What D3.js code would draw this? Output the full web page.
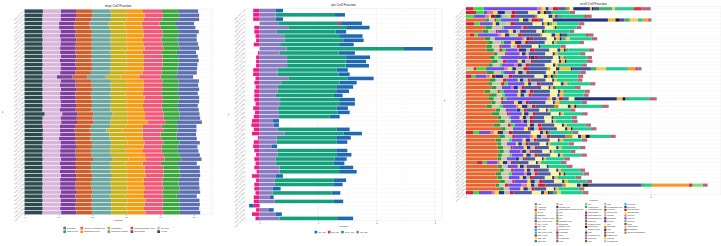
<!DOCTYPE html>
<html><head><meta charset="utf-8">
<script src="https://cdn.jsdelivr.net/npm/d3@7"></script>
<style>body{margin:0;background:#fff}svg{display:block;font-family:"Liberation Sans",Arial,sans-serif}</style>
</head><body><svg id="c" width="721" height="246"></svg>
<script>
const samples = ["TCGA-3C-AAAU","TCGA-3C-AALI","TCGA-3C-AALJ","TCGA-3C-AALK","TCGA-4H-AAAK","TCGA-5L-AAT0","TCGA-5L-AAT1","TCGA-5T-A9QA","TCGA-A1-A0SB","TCGA-A1-A0SD","TCGA-A1-A0SE","TCGA-A1-A0SF","TCGA-A1-A0SG","TCGA-A1-A0SH","TCGA-A1-A0SI","TCGA-A1-A0SJ","TCGA-A1-A0SK","TCGA-A1-A0SM","TCGA-A1-A0SN","TCGA-A1-A0SO","TCGA-A1-A0SP","TCGA-A1-A0SQ","TCGA-A2-A04N","TCGA-A2-A04P","TCGA-A2-A04Q","TCGA-A2-A04R","TCGA-A2-A04T","TCGA-A2-A04U","TCGA-A2-A04V","TCGA-A2-A04W","TCGA-A2-A04X","TCGA-A2-A04Y","TCGA-A2-A0CK","TCGA-A2-A0CL","TCGA-A2-A0CM","TCGA-A2-A0CO","TCGA-A2-A0CP","TCGA-A2-A0CQ","TCGA-A2-A0CR","TCGA-A2-A0CS","TCGA-A2-A0CT","TCGA-A2-A0CU","TCGA-A2-A0CV","TCGA-A2-A0CW","TCGA-A2-A0CX","TCGA-A2-A0CZ","TCGA-A2-A0D0","TCGA-A2-A0D1","TCGA-A2-A0D2","TCGA-A2-A0D3"];

// ---------- MCP-counter ----------
const mcpTypes = ["B lineage","CD8 T cells","Cytotoxic lymphocytes","Endothelial cells","Fibroblasts","Monocytic lineage","Myeloid dendritic cells","Neutrophils","NK cells","T cells"];
const mcpColors = ["#5C70AF","#3AA83A","#F45878","#F79D13","#C6B31C","#6CA6A0","#CF5F2A","#7E3E9E","#D8B5DA","#2D4B4E"];
const mcpB = [6.0,5.9,6.2,5.6,5.4,6.1,5.5,5.7,5.8,5.9,5.7,5.8,5.9,5.6,5.8,5.7,5.0,6.0,5.9,6.0,6.1,5.9,6.0,6.1,6.0,5.9,6.2,7.6,5.5,5.6,5.8,5.9,6.0,5.8,6.1,5.9,6.0,5.8,6.1,6.0,5.9,6.0,6.1,5.9,6.2,6.0,5.8,6.1,5.9,6.0];
const mcpCD8 = [4.7,4.8,4.7,4.6,4.8,4.7,4.6,4.7,4.8,4.7,4.6,4.7,4.8,4.7,4.6,4.7,4.6,4.7,4.8,4.7,4.7,4.8,4.7,4.6,4.8,4.7,4.7,3.0,4.8,4.0,4.7,4.6,4.8,4.7,4.8,4.7,4.9,4.8,4.7,4.8,4.9,4.8,4.7,4.8,4.9,4.2,4.7,4.9,4.8,4.7];
const mcpCyto = [5.6,5.5,5.4,5.3,5.5,5.4,5.6,5.5,5.4,5.5,5.6,5.4,5.5,5.5,5.4,5.6,6.3,5.5,5.4,5.6,5.5,5.4,5.6,5.5,5.4,5.5,5.6,5.4,5.5,6.4,5.3,5.5,5.6,5.4,5.5,5.6,5.5,5.4,5.6,5.5,5.4,5.6,5.5,5.4,5.5,5.6,5.5,5.4,5.6,5.5];
const mcpEndo = [5.0,5.1,5.2,5.1,5.0,5.2,5.1,5.0,5.2,5.1,5.0,5.1,5.2,5.1,5.0,5.1,5.5,5.1,5.2,5.0,5.1,5.2,5.1,5.0,5.2,5.1,5.1,5.9,5.1,5.9,5.2,5.1,5.0,5.2,5.1,5.3,5.2,5.1,5.2,5.3,5.2,5.1,5.3,5.2,5.1,5.2,5.3,5.2,5.1,5.2];
const mcpFib = [4.6,4.7,4.6,4.7,4.8,4.6,4.7,4.6,4.7,4.8,4.6,4.7,4.6,4.7,4.8,4.6,4.4,4.7,4.6,4.7,4.6,4.8,4.7,4.6,4.7,4.6,4.8,5.1,4.7,4.7,4.6,4.7,4.8,4.6,4.7,4.8,4.7,4.6,4.7,4.8,4.7,4.6,4.7,4.8,4.6,4.7,4.8,4.6,4.7,4.8];
const mcpMono = [5.5,5.6,5.7,5.6,5.5,5.6,5.7,5.5,5.6,5.7,5.5,5.6,5.7,5.6,5.5,5.6,5.5,5.7,5.6,5.5,5.6,5.7,5.6,5.5,5.7,5.6,5.5,5.0,5.6,4.9,5.3,5.6,5.7,5.5,5.6,5.7,5.8,5.6,5.7,5.8,5.7,5.6,5.7,5.8,5.6,5.5,5.7,5.8,5.6,5.7];
const mcpMDC = [4.7,4.8,4.7,4.6,4.7,4.8,4.7,4.6,4.7,4.8,4.7,4.6,4.7,4.8,4.7,4.6,4.4,4.7,4.8,4.7,4.6,4.7,4.8,4.7,4.6,4.7,4.8,4.9,4.7,4.5,4.7,4.6,4.8,4.7,4.6,4.7,4.8,4.7,4.6,4.7,4.8,4.7,4.6,4.7,4.8,4.7,4.6,4.7,4.8,4.7];
const mcpNeu = [4.5,4.6,4.5,4.4,4.6,4.5,4.6,4.7,4.5,4.6,4.5,4.6,4.7,4.5,4.6,4.5,4.6,4.5,4.6,4.7,4.5,4.6,4.5,4.6,4.7,4.5,4.6,4.7,4.5,4.4,4.6,4.7,4.5,4.6,4.5,4.6,4.7,4.5,4.6,4.5,4.6,4.7,4.5,4.6,4.5,4.6,4.7,4.5,4.6,4.5];
const mcpNK = [5.3,5.3,5.4,5.0,5.1,5.3,5.2,5.3,5.4,5.2,5.3,5.4,5.2,5.3,5.4,5.2,4.3,5.3,5.2,5.4,5.3,5.2,5.4,5.3,5.2,5.2,5.3,5.6,5.1,5.0,5.2,4.8,5.3,5.4,5.2,5.3,5.4,5.2,5.3,5.2,5.4,5.3,5.2,5.3,5.4,5.2,5.3,5.4,5.2,5.6];
const mcpT = [5.4,5.3,5.2,5.2,5.1,5.3,5.2,5.3,5.2,5.3,5.2,5.3,5.2,5.3,5.2,5.3,5.2,5.3,5.2,5.3,5.2,5.3,5.2,5.3,5.2,5.9,5.3,5.2,5.3,5.4,5.3,5.4,5.3,5.2,5.3,5.2,5.3,5.2,5.3,5.2,5.3,5.2,5.3,5.2,5.3,5.2,5.3,5.2,5.3,5.2];
const mcpTicks = [0,10,20,30,40,50];

// ---------- IPS ----------
const ipsTypes = ["CP_IPS","EC_IPS","MHC_IPS","SC_IPS"];
const ipsColors = ["#1E69AF","#EE1C8A","#15A07C","#8A7CC0"];
const ipsCP  = [0.13,0.17,0.13,0.37,0.40,0.18,0.40,0.35,0.25,0.49,0.28,0.41,0.35,0.40,0.19,0.19,0.44,0.29,0.29,0.22,0.15,0.27,0.27,0.19,0.21,0.17,0.10,0.09,0.22,0.31,0.25,0.18,0.09,0.19,0.26,0.21,0.19,0.24,0.30,0.13,0.21,0.16,0.14,0.15,0.07,0.16,-0.08,0.08,0.11,0.26];
const ipsEC  = [-0.11,-0.11,-0.11,0.04,-0.09,-0.09,-0.07,-0.06,-0.10,0,-0.03,-0.06,-0.06,-0.06,-0.11,-0.11,-0.07,-0.09,-0.07,-0.09,-0.09,-0.09,-0.07,-0.11,-0.08,-0.10,-0.13,-0.14,-0.10,-0.13,-0.03,-0.10,-0.11,-0.09,-0.06,-0.09,-0.07,-0.09,-0.05,-0.13,-0.06,-0.09,-0.09,-0.07,-0.10,-0.10,-0.10,-0.06,-0.13,-0.07];
const ipsMHC = [0,1.02,0,1.01,0.99,1.01,0.94,1.00,1.01,2.01,1.01,1.01,1.01,1.00,1.01,1.04,1.01,1.00,1.00,1.00,1.00,1.01,1.01,1.01,1.00,0.87,0,0,1.01,1.01,1.02,1.03,0,1.01,1.00,1.01,0.99,1.02,1.02,0,1.01,1.00,0,1.01,0,1.01,0,0,0,1.00];
const ipsSC  = [0.27,0.27,0.27,0.33,0.49,0.29,0.42,0.43,0.35,0.46,0.34,0.47,0.46,0.47,0.31,0.31,0.50,0.37,0.31,0.31,0.27,0.35,0.35,0.31,0.33,0.33,0.23,0.24,0.31,0.43,0.29,0.29,0.21,0.30,0.31,0.27,0.27,0.34,0.34,0.27,0.26,0.26,0.22,0.22,0.17,0.26,0,0.16,0.27,0.34];
const ipsTicks = [0,1,2,3];

// ---------- xCell ----------
const xcellTypes = ["aDC","Adipocytes","Astrocytes","B-cells","Basophils","CD4+ memory T-cells","CD4+ naive T-cells","CD4+ T-cells","CD4+ Tcm","CD4+ Tem","CD8+ naive T-cells","CD8+ T-cells","CD8+ Tcm","CD8+ Tem","cDC","Chondrocytes","Class-switched memory B-cells","CLP","CMP","DC","Endothelial cells","Eosinophils","Epithelial cells","Erythrocytes","Fibroblasts","GMP","Hepatocytes","HSC","iDC","Keratinocytes","ly Endothelial cells","Macrophages","Macrophages M1","Macrophages M2","Mast cells","Megakaryocytes","Melanocytes","Memory B-cells","MEP","Mesangial cells","Monocytes","MPP","MSC","mv Endothelial cells","Myocytes","naive B-cells","Neurons","Neutrophils","NK cells","NKT","Osteoblast","pDC","Pericytes","Plasma cells","Platelets","Preadipocytes","pro B-cells","Sebocytes","Skeletal muscle","Smooth muscle","Tgd cells","Th1 cells","Th2 cells","Tregs","ImmuneScore","StromaScore","MicroenvironmentScore"];
const xcellColors = ["#B4687C","#7CE07A","#E4312B","#F39A27","#1CCF8F","#BA55D3","#556B2F","#FFA07A","#9932CC","#1E90FF","#20B2AA","#A52A2A","#F2D04B","#2E8B57","#F4A460","#483D8B","#8FBC8F","#FF69B4","#5F9EA0","#B8860B","#3CB371","#DB7093","#C9B8E8","#FF7F50","#2F4F4F","#6A5ACD","#D2691E","#8B5A8C","#9ACD32","#00B5AD","#F0E68C","#46549A","#C71585","#A0522D","#3E8E3E","#E84A9A","#1E1E1E","#F5D27A","#0E6B5C","#D34E7A","#9E6BD6","#6B6B3A","#F6B53A","#2EA8E0","#B33F2B","#5DD39E","#E98FA8","#22347F","#7F2C8F","#F6F39C","#C18A1B","#4A2A1A","#4B5CA0","#D9142E","#B6E34A","#B5BBAE","#19C9D6","#2B2F86","#8E1B2E","#F2E02E","#F06AA0","#6E4EEA","#2FE03A","#D8203A","#C8C4A8","#22A03A","#E8642C"];
// per sample: [cell type index, score]
const xcellRows = [
[[63,.2],[62,.28],[61,1.45],[60,.12],[59,.1],[57,.08],[55,.12],[53,.15],[52,.2],[50,.1],[49,.1],[47,.45],[42,.05],[36,.05],[31,.15],[20,.35],[12,.08],[4,.5],[2,.22],[0,.25]],
[[63,.28],[62,.2],[61,.1],[60,.15],[59,.12],[57,.2],[55,.18],[53,.1],[52,.35],[49,.25],[47,.08],[42,.1],[36,.05],[31,.15],[20,.05],[4,.45],[0,.14]],
[[62,.22],[61,.3],[60,.1],[59,.05],[58,.12],[57,.15],[56,.05],[55,.12],[54,.1],[53,.12],[52,.55],[50,.05],[49,.3],[47,.1],[42,.08],[31,.07],[20,.12],[4,.6],[2,.05],[0,.15]],
[[66,.52],[65,.1],[64,.15],[63,.05],[62,.12],[61,.5],[59,.1],[57,.15],[55,.08],[53,.2],[52,.12],[49,.25],[47,1.5],[42,.2],[36,.12],[31,.12],[20,.15],[12,.22],[4,.12],[3,.15],[0,.1]],
[[63,.22],[62,.15],[61,.35],[59,.08],[57,.1],[55,.2],[54,.1],[53,.1],[52,.5],[49,.25],[47,.05],[42,.1],[36,.05],[20,.08],[12,.12],[4,.6],[0,.15]],
[[66,.52],[65,.18],[64,.27],[62,.05],[61,.48],[60,.05],[53,.08],[52,.5],[49,.22],[42,.06],[36,.03],[4,.55],[0,.13]],
[[66,.45],[65,.15],[64,.2],[63,.05],[61,.3],[59,.12],[57,.08],[55,.1],[52,.45],[49,.15],[47,.06],[20,.1],[4,.6],[0,.12]],
[[66,.1],[63,.12],[62,.1],[61,.55],[60,.08],[59,.1],[57,.12],[55,.18],[54,.06],[53,.1],[52,.5],[50,.05],[49,.25],[47,.1],[42,.12],[36,.04],[31,.18],[4,.5],[2,.05],[0,.15]],
[[66,.5],[65,.15],[64,.12],[61,.75],[60,.06],[59,.05],[57,.08],[53,.12],[52,.35],[49,.2],[47,.05],[42,.1],[36,.05],[20,.12],[12,.1],[4,.6],[0,.15]],
[[66,.6],[65,.12],[64,.22],[62,.08],[61,.2],[59,.1],[58,.06],[57,.12],[55,.1],[53,.08],[52,.45],[49,.2],[47,.05],[42,.06],[4,.62],[0,.13]],
[[66,.55],[65,.15],[64,.2],[63,.06],[61,.25],[59,.05],[55,.12],[53,.1],[52,.3],[49,.18],[47,.05],[4,.55],[0,.14]],
[[66,.55],[65,.2],[64,.15],[63,.08],[62,.1],[61,.3],[60,.05],[57,.2],[55,.1],[53,.12],[52,.4],[49,.22],[47,.08],[42,.1],[36,.04],[20,.08],[4,.55],[0,.14]],
[[66,.75],[65,.1],[64,.2],[63,.05],[61,.35],[59,.06],[57,.1],[55,.08],[52,.45],[49,.2],[47,.06],[42,.08],[4,.6],[0,.15]],
[[66,.65],[65,.12],[64,.1],[62,.08],[61,.7],[60,.05],[58,.05],[57,.1],[53,.1],[52,.4],[49,.15],[47,.05],[42,.08],[20,.1],[4,.55],[0,.13]],
[[66,.7],[65,.15],[64,.15],[63,.1],[61,.3],[59,.1],[57,.1],[55,.15],[53,.06],[52,.5],[49,.2],[47,.06],[42,.1],[36,.05],[4,.55],[0,.15]],
[[66,.6],[65,.12],[64,.18],[62,.06],[61,.35],[60,.08],[57,.12],[55,.1],[53,.1],[52,.42],[49,.22],[47,.06],[42,.08],[20,.1],[4,.55],[0,.13]],
[[64,.2],[63,.08],[62,.25],[61,.5],[60,.1],[59,.12],[57,.1],[55,.2],[53,.1],[52,.55],[50,.08],[49,.15],[47,.1],[42,.3],[36,.05],[31,.5],[20,.15],[12,.25],[4,.6],[3,.2],[2,.05],[0,.12]],
[[66,.55],[65,.2],[64,.2],[62,.08],[61,.3],[59,.08],[57,.12],[55,.1],[53,.08],[52,.45],[49,.2],[47,.05],[42,.08],[4,.6],[0,.15]],
[[63,.15],[62,.1],[61,.3],[60,.1],[59,.05],[58,.1],[57,.2],[55,.15],[53,.1],[52,.6],[49,.25],[47,.1],[42,.1],[36,.05],[20,.12],[4,.55],[0,.15]],
[[66,.65],[65,.15],[64,.2],[63,.1],[61,.3],[59,.05],[57,.1],[55,.12],[53,.08],[52,.4],[49,.18],[47,.05],[42,.08],[4,.55],[0,.14]],
[[66,.6],[65,.1],[64,.25],[63,.08],[62,.1],[61,.45],[59,.1],[57,.08],[55,.15],[53,.1],[52,.35],[49,.2],[47,.08],[42,.1],[20,.06],[4,.55],[0,.15]],
[[66,.7],[65,.12],[64,.15],[61,.25],[60,.06],[57,.12],[55,.1],[53,.08],[52,.45],[49,.2],[47,.05],[42,.08],[36,.04],[4,.55],[0,.15]],
[[66,.5],[65,.15],[64,.2],[63,.06],[62,.1],[61,.4],[59,.06],[57,.15],[55,.1],[53,.1],[52,.45],[49,.22],[47,.06],[42,.08],[20,.08],[4,.5],[0,.14]],
[[66,.65],[65,.18],[64,.15],[62,.06],[61,.35],[59,.08],[57,.1],[55,.12],[53,.08],[52,.5],[49,.2],[47,.06],[42,.1],[4,.55],[0,.14]],
[[66,.6],[65,.15],[64,.2],[63,.06],[62,.08],[61,1.1],[60,.08],[59,.06],[57,.1],[55,.08],[53,.12],[52,.15],[49,.15],[47,1.15],[42,.15],[36,.08],[20,.1],[4,.55],[0,.2]],
[[66,.7],[65,.1],[64,.15],[63,.05],[61,.3],[59,.1],[57,.12],[55,.1],[53,.08],[52,.45],[49,.2],[47,.05],[42,.12],[4,.6],[0,.15]],
[[66,.55],[65,.15],[64,.2],[62,.1],[61,.35],[60,.06],[59,.1],[57,.15],[55,.12],[53,.1],[52,.5],[50,.12],[49,.25],[47,.08],[42,.1],[36,.05],[20,.1],[4,.6],[0,.18]],
[[66,.8],[65,.12],[64,.15],[61,.3],[57,.1],[55,.1],[53,.06],[52,.35],[49,.18],[47,.05],[42,.06],[4,.55],[0,.14]],
[[66,.7],[65,.2],[64,.2],[63,.06],[61,.35],[59,.06],[57,.12],[55,.12],[53,.08],[52,.4],[49,.22],[47,.05],[42,.08],[4,.5],[0,.15]],
[[66,.85],[65,.1],[64,.2],[62,.05],[61,.25],[59,.08],[57,.1],[55,.1],[53,.08],[52,.3],[49,.2],[47,.05],[4,.5],[0,.14]],
[[66,.9],[65,.15],[64,.15],[61,.3],[60,.05],[57,.1],[55,.08],[53,.08],[52,.32],[49,.18],[47,.05],[42,.06],[4,.45],[0,.15]],
[[66,.75],[65,.18],[64,.2],[63,.08],[62,.1],[61,.35],[59,.06],[57,.12],[55,.1],[53,.1],[52,.35],[49,.2],[47,.06],[42,.08],[4,.5],[0,.15]],
[[66,.95],[65,.12],[64,.2],[61,.3],[59,.1],[58,.05],[57,.12],[55,.12],[53,.1],[52,.4],[49,.22],[47,.06],[42,.1],[36,.04],[4,.5],[0,.15]],
[[63,.2],[62,.15],[61,.3],[60,.1],[59,.1],[57,.15],[55,.15],[53,.1],[52,.5],[49,.25],[47,.08],[42,.08],[36,.05],[20,.08],[4,.6],[0,.15]],
[[66,.9],[65,.15],[64,.2],[63,.08],[61,.4],[60,.08],[59,.1],[57,.12],[55,.15],[53,.1],[52,.4],[50,.2],[49,.15],[47,.08],[42,.12],[36,.12],[4,.55],[0,.15]],
[[66,.8],[65,.15],[64,.2],[62,.08],[61,.3],[59,.08],[57,.12],[55,.1],[53,.08],[52,.35],[49,.22],[47,.05],[42,.1],[4,.5],[0,.15]],
[[66,.85],[65,.1],[64,.15],[61,.25],[59,.06],[57,.1],[55,.1],[53,.08],[52,.3],[49,.18],[47,.05],[42,.06],[4,.5],[0,.14]],
[[66,.85],[65,.15],[64,.2],[63,.06],[61,.3],[59,.08],[57,.1],[55,.12],[53,.06],[52,.32],[49,.2],[47,.06],[42,.08],[4,.5],[0,.15]],
[[66,.9],[65,.12],[64,.15],[61,.3],[60,.05],[57,.1],[55,.1],[53,.06],[52,.28],[49,.2],[47,.05],[42,.06],[4,.45],[0,.14]],
[[66,.85],[65,.12],[64,.2],[62,.06],[61,.32],[59,.08],[57,.12],[55,.1],[53,.08],[52,.35],[49,.2],[47,.06],[42,.08],[4,.5],[0,.15]],
[[66,.85],[65,.1],[64,.15],[61,.25],[57,.08],[55,.1],[53,.06],[52,.28],[49,.18],[47,.05],[42,.06],[4,.5],[0,.15]],
[[66,.3],[63,.15],[62,.1],[61,.3],[60,.06],[59,.08],[57,.12],[55,.1],[53,.06],[52,.42],[49,.2],[47,.05],[42,.08],[4,.55],[0,.15]],
[[66,.85],[65,.12],[64,.15],[61,.28],[59,.06],[57,.1],[55,.08],[53,.06],[52,.3],[49,.18],[47,.05],[4,.5],[0,.15]],
[[66,.9],[65,.12],[64,.2],[63,.06],[61,.3],[59,.06],[57,.1],[55,.1],[53,.08],[52,.32],[49,.2],[47,.05],[42,.08],[4,.5],[0,.15]],
[[66,.8],[65,.15],[64,.2],[62,.08],[61,.35],[60,.06],[57,.12],[55,.1],[53,.08],[52,.35],[49,.22],[47,.05],[42,.08],[36,.04],[4,.5],[0,.15]],
[[66,.85],[65,.12],[64,.18],[61,.3],[59,.08],[57,.1],[55,.1],[53,.08],[52,.32],[49,.2],[47,.06],[42,.08],[4,.5],[0,.15]],
[[66,.9],[65,.15],[64,.2],[63,.06],[61,.35],[59,.08],[57,.12],[55,.12],[53,.08],[52,.32],[49,.22],[47,.06],[42,.1],[4,.5],[0,.15]],
[[66,.8],[65,.1],[64,.15],[63,.1],[61,.35],[60,.15],[59,.1],[57,.1],[55,.1],[53,.2],[52,.45],[50,.1],[49,.3],[47,.1],[42,.05],[36,.15],[31,1.45],[20,.1],[4,.18],[3,1.0],[2,.1],[1,.27],[0,.14]],
[[66,.9],[65,.12],[64,.15],[61,.3],[59,.08],[57,.12],[55,.1],[53,.08],[52,.32],[49,.2],[47,.05],[42,.08],[4,.55],[0,.15]],
[[63,.2],[62,.15],[61,.35],[60,.08],[59,.1],[57,.15],[55,.15],[53,.1],[52,.5],[49,.25],[47,.08],[42,.1],[36,.05],[31,.1],[20,.1],[12,.1],[4,.6],[0,.15]]
];
const xcellTicks = [0,5];

// ---------- build tables ----------
function tableFrom(keys, cols) {
  return samples.map((s, i) => {
    const o = {sample: s};
    keys.forEach((k, j) => o[k] = cols[j][i]);
    return o;
  });
}
const mcpTable = tableFrom(mcpTypes, [mcpB, mcpCD8, mcpCyto, mcpEndo, mcpFib, mcpMono, mcpMDC, mcpNeu, mcpNK, mcpT]);
const ipsTable = tableFrom(ipsTypes, [ipsCP, ipsEC, ipsMHC, ipsSC]);
const xcellTable = samples.map((s, i) => {
  const o = {sample: s};
  xcellTypes.forEach(k => o[k] = 0);
  xcellRows[i].forEach(([j, v]) => o[xcellTypes[j]] = v);
  return o;
});

const svg = d3.select("#c");

function legend(g, keys, colors, o) {
  const n = keys.length;
  const items = keys.map((k, i) => ({k, c: colors[i], col: Math.floor(i / o.nrow), row: i % o.nrow}));
  const ncol = Math.ceil(n / o.nrow);
  const lg = g.append("g");
  const texts = lg.selectAll("text.l").data(items).join("text").attr("class", "l")
    .attr("font-size", o.font).attr("fill", "#222").text(d => d.k);
  const widths = new Array(ncol).fill(0);
  texts.each(function(d) { widths[d.col] = Math.max(widths[d.col], this.getComputedTextLength()); });
  const colX = []; let acc = 0;
  for (let c = 0; c < ncol; c++) { colX.push(acc); acc += o.key + o.gap + widths[c] + o.colGap; }
  const total = acc - o.colGap;
  const x0 = o.cx - total / 2;
  lg.selectAll("rect").data(items).join("rect")
    .attr("x", d => x0 + colX[d.col]).attr("y", d => o.top + d.row * o.pitch)
    .attr("width", o.key).attr("height", o.key).attr("fill", d => d.c);
  texts.attr("x", d => x0 + colX[d.col] + o.key + o.gap)
       .attr("y", d => o.top + d.row * o.pitch + o.key / 2).attr("dy", "0.35em");
}

function panel(cfg) {
  const g = svg.append("g");
  const [xa, xb] = cfg.xRange, [ya, yb] = cfg.yRange;
  const x = d3.scaleLinear().domain(cfg.xDomain).range(cfg.xRange);
  const y = d3.scaleBand().domain(samples).range(cfg.yRange).paddingInner(0.16).paddingOuter(0.1);
  g.append("rect").attr("x", xa).attr("y", ya).attr("width", xb - xa).attr("height", yb - ya)
    .attr("fill", "#fff").attr("stroke", "#e2e2e2").attr("stroke-width", 0.4);
  const minor = cfg.ticks.slice(0, -1).map((t, i) => (t + cfg.ticks[i + 1]) / 2);
  if (cfg.ticks.length > 1) minor.push(cfg.ticks[cfg.ticks.length - 1] + (cfg.ticks[1] - cfg.ticks[0]) / 2);
  g.append("g").selectAll("line").data(minor.filter(t => x(t) > xa && x(t) < xb)).join("line")
    .attr("x1", d => x(d)).attr("x2", d => x(d)).attr("y1", ya).attr("y2", yb)
    .attr("stroke", "#f2f2f2").attr("stroke-width", 0.3);
  g.append("g").selectAll("line").data(cfg.ticks).join("line")
    .attr("x1", d => x(d)).attr("x2", d => x(d)).attr("y1", ya).attr("y2", yb)
    .attr("stroke", "#e6e6e6").attr("stroke-width", 0.4);
  g.append("g").selectAll("line").data(samples).join("line")
    .attr("x1", xa).attr("x2", xb).attr("y1", d => y(d) + y.bandwidth() / 2).attr("y2", d => y(d) + y.bandwidth() / 2)
    .attr("stroke", "#eeeeee").attr("stroke-width", 0.3);
  const stack = d3.stack().keys(cfg.keys).order(d3.stackOrderReverse).offset(d3.stackOffsetDiverging);
  const series = stack(cfg.table);
  series.forEach(s => {
    const col = cfg.colors[cfg.keys.indexOf(s.key)];
    g.append("g").attr("fill", col).selectAll("rect")
      .data(s.filter(d => d[1] !== d[0])).join("rect")
      .attr("x", d => x(Math.min(d[0], d[1])))
      .attr("width", d => Math.abs(x(d[1]) - x(d[0])))
      .attr("y", d => y(d.data.sample)).attr("height", y.bandwidth());
  });
  const ax = g.append("g").attr("transform", `translate(0,${yb})`)
    .call(d3.axisBottom(x).tickValues(cfg.ticks).tickSize(1.2).tickPadding(0.6).tickFormat(d3.format("d")));
  ax.select(".domain").remove();
  ax.selectAll(".tick line").attr("stroke", "#444").attr("stroke-width", 0.3);
  ax.selectAll(".tick text").attr("font-size", 2.4).attr("fill", "#4d4d4d").attr("font-family", null);
  g.append("text").attr("x", (xa + xb) / 2).attr("y", yb + 6.6).attr("text-anchor", "middle")
    .attr("font-size", 2.4).attr("fill", "#222").text("Fraction");
  const yl = g.append("g");
  yl.selectAll("line").data(samples).join("line")
    .attr("x1", xa - 0.9).attr("x2", xa).attr("y1", d => y(d) + y.bandwidth() / 2).attr("y2", d => y(d) + y.bandwidth() / 2)
    .attr("stroke", "#444").attr("stroke-width", 0.25);
  yl.selectAll("text").data(samples).join("text")
    .attr("transform", d => `translate(${xa - 1.3},${y(d) + y.bandwidth() / 2}) rotate(-45)`)
    .attr("text-anchor", "end").attr("dy", "0.35em").attr("font-size", 1.75).attr("fill", "#555").text(d => d);
  g.append("text").attr("transform", `translate(${cfg.yTitleX},${(ya + yb) / 2}) rotate(-90)`)
    .attr("text-anchor", "middle").attr("font-size", 2.4).attr("fill", "#222").text("ID");
  g.append("text").attr("x", (xa + xb) / 2).attr("y", ya - 2.2).attr("text-anchor", "middle")
    .attr("font-size", 3.4).attr("fill", "#222").text(cfg.title);
  legend(g, cfg.keys, cfg.colors, cfg.legend);
}

panel({title: "mcp Cell Fraction", keys: mcpTypes, colors: mcpColors, table: mcpTable,
  xDomain: [0, 55.4], xRange: [24.6, 212], yRange: [9, 214.8], ticks: mcpTicks, yTitleX: 2.5,
  legend: {nrow: 2, cx: 116, top: 226.7, key: 2.7, gap: 1.1, colGap: 2.6, pitch: 3.6, font: 2.1}});
panel({title: "ips Cell Fraction", keys: ipsTypes, colors: ipsColors, table: ipsTable,
  xDomain: [-0.25, 3.12], xRange: [245, 442], yRange: [8.4, 220.6], ticks: ipsTicks, yTitleX: 228.5,
  legend: {nrow: 1, cx: 341, top: 230.8, key: 2.6, gap: 1.1, colGap: 2.2, pitch: 3.6, font: 2.1}});
panel({title: "xcell Cell Fraction", keys: xcellTypes, colors: xcellColors, table: xcellTable,
  xDomain: [0, 6.9], xRange: [466, 721], yRange: [6.8, 194.6], ticks: xcellTicks, yTitleX: 444.5,
  legend: {nrow: 14, cx: 590, top: 203, key: 2.2, gap: 0.9, colGap: 2.2, pitch: 2.85, font: 1.7}});
</script></body></html>
